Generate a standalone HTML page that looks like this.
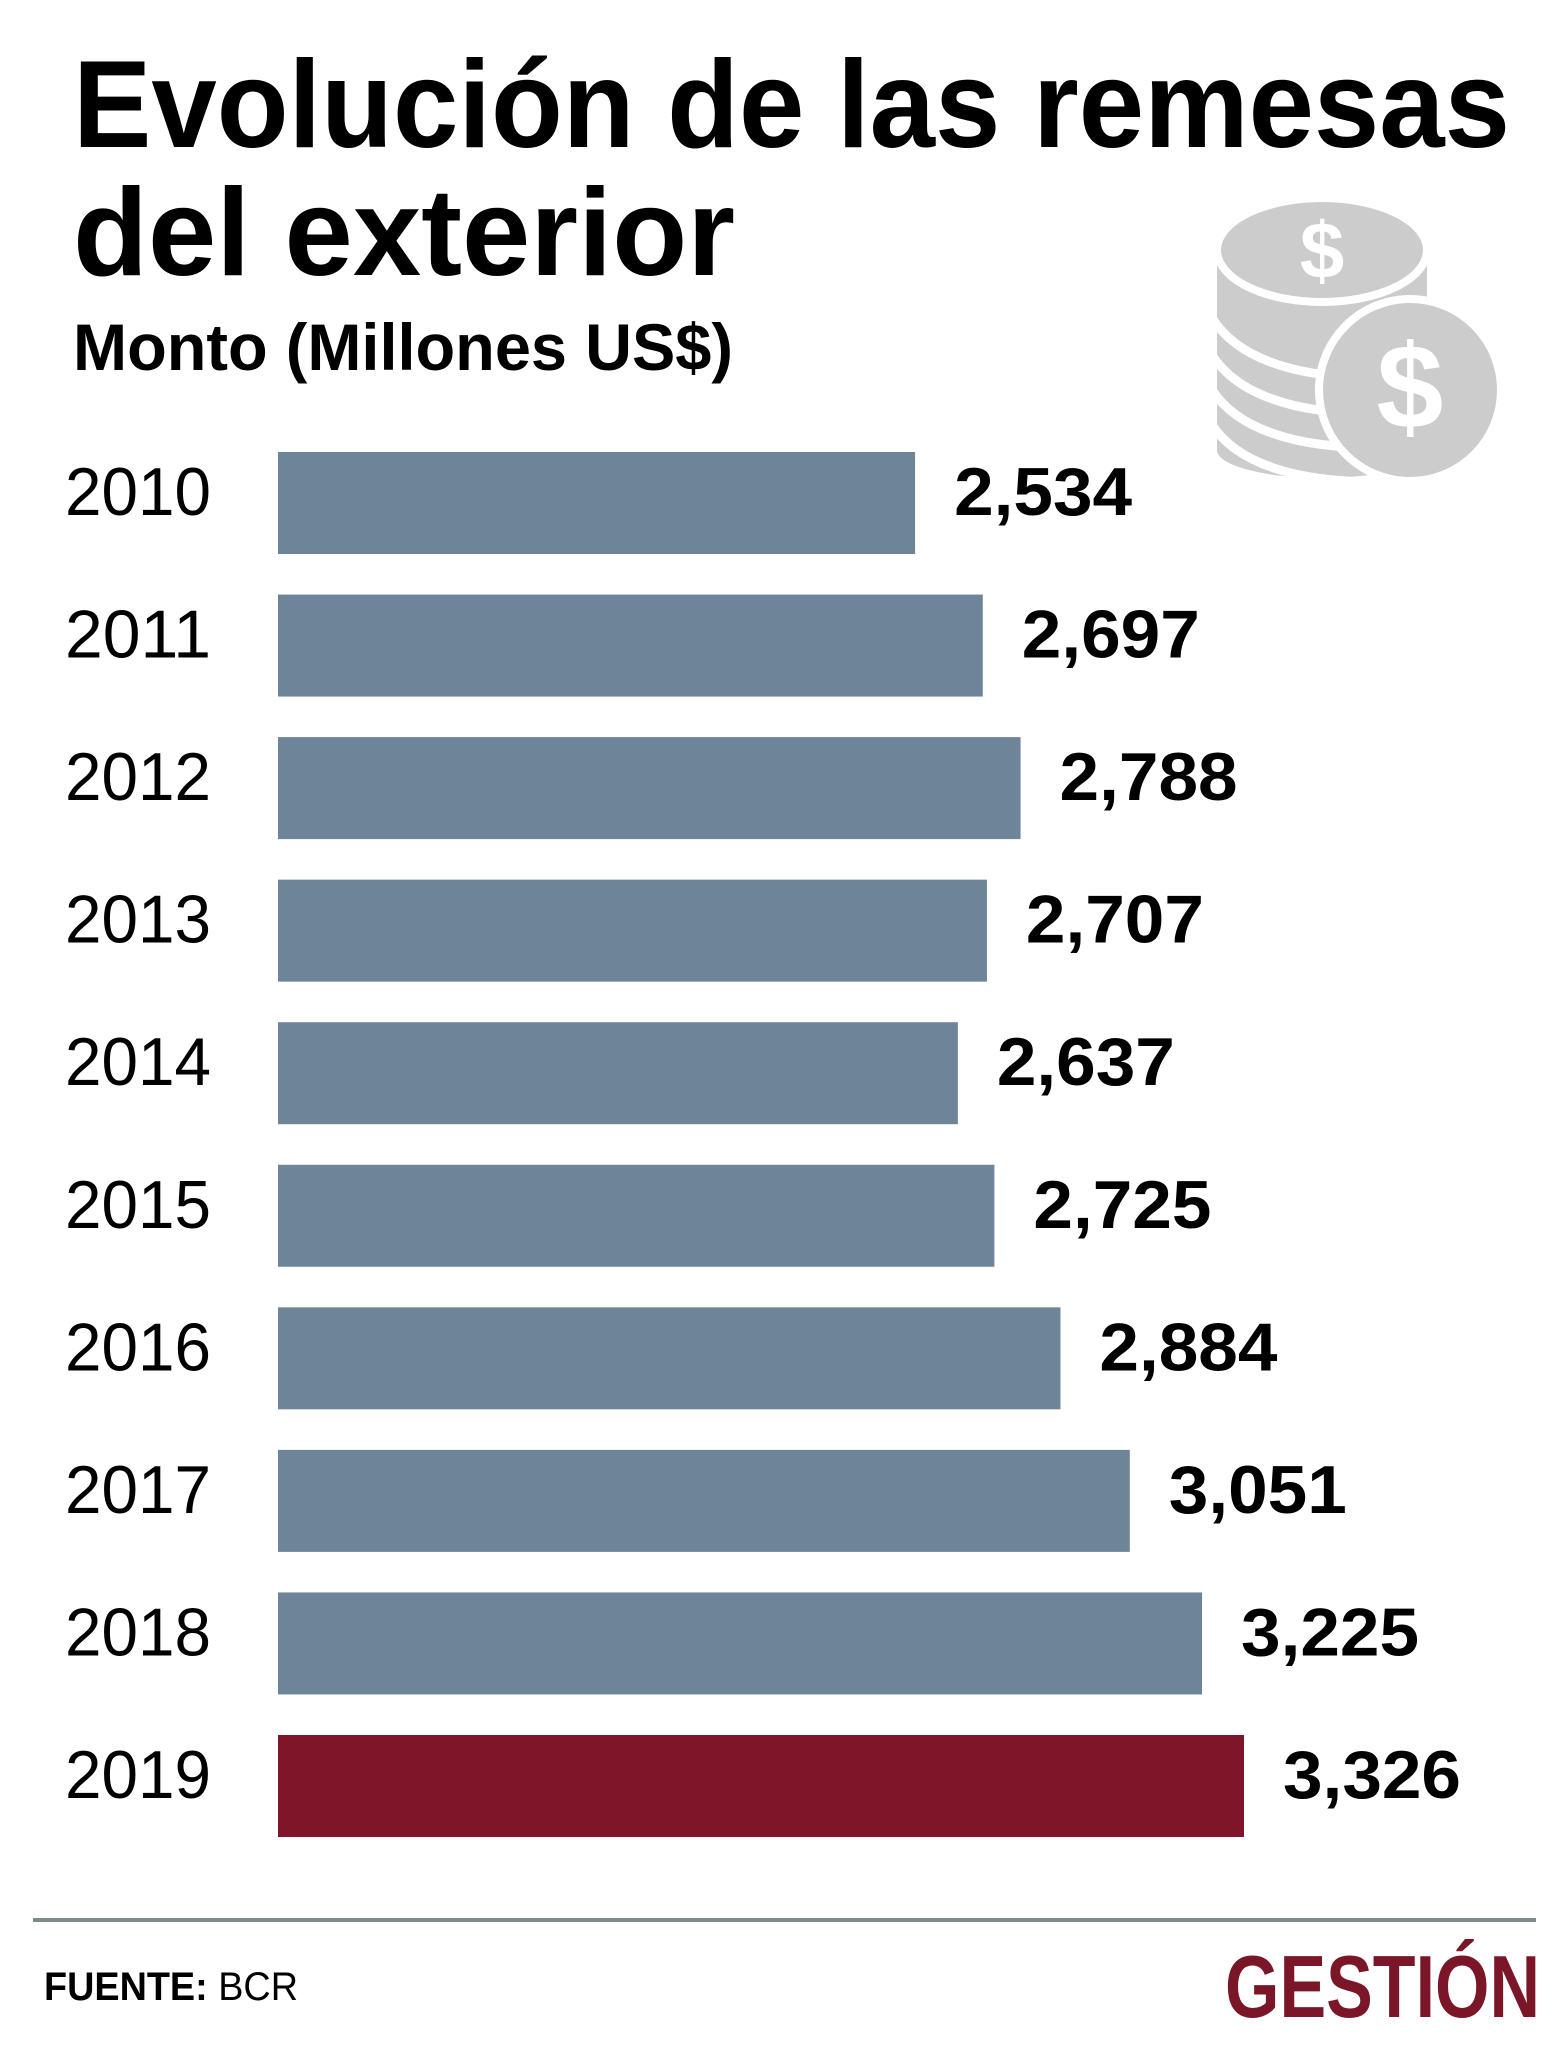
<!DOCTYPE html>
<html><head><meta charset="utf-8">
<style>
html,body{margin:0;padding:0;background:#fff;}
svg{display:block;}
text{font-family:"Liberation Sans",sans-serif;}
</style></head>
<body>
<svg id="chart" width="1564" height="2063" viewBox="0 0 1564 2063" xmlns="http://www.w3.org/2000/svg">
  <rect width="1564" height="2063" fill="#fff"/>
  <text x="73" y="147" font-size="124" font-weight="bold" fill="#000" textLength="1437" lengthAdjust="spacingAndGlyphs">Evolución de las remesas</text>
  <text x="73" y="275" font-size="124" font-weight="bold" fill="#000" textLength="662" lengthAdjust="spacingAndGlyphs">del exterior</text>
  <text x="73" y="370" font-size="66" font-weight="bold" fill="#000" textLength="660" lengthAdjust="spacingAndGlyphs">Monto (Millones US$)</text>

  <g fill="#cccccc">
    <rect x="1217" y="250" width="210" height="200"/>
    <ellipse cx="1322" cy="450" rx="105" ry="28"/>
    <g fill="none" stroke="#fff" stroke-width="9">
      <path d="M1212,318 Q1250,378 1380,378"/>
      <path d="M1212,355 Q1250,414 1380,414"/>
      <path d="M1212,390 Q1250,448 1380,448"/>
      <path d="M1212,425 Q1250,482 1380,482"/>
    </g>
    <ellipse cx="1322" cy="250" rx="105" ry="52" stroke="#fff" stroke-width="8"/>
    <circle cx="1410" cy="390" r="95" fill="#fff"/>
    <circle cx="1410" cy="390" r="87"/>
    <rect x="1150" y="478" width="400" height="40" fill="#fff"/>
    <text x="1322" y="278" font-size="80" font-weight="bold" fill="#fff" text-anchor="middle">$</text>
    <text x="1410" y="428" font-size="120" font-weight="bold" fill="#fff" text-anchor="middle">$</text>
  </g>

  <g id="bars"></g>

  <rect x="33" y="1918" width="1503" height="4" fill="#7f8a8a"/>
  <text x="44" y="2000" font-size="40" fill="#000" textLength="254" lengthAdjust="spacingAndGlyphs"><tspan font-weight="bold">FUENTE:</tspan> BCR</text>
  <text x="1225" y="2017" font-family="Liberation Serif,serif" font-size="88" font-weight="bold" fill="#7b1628" textLength="315" lengthAdjust="spacingAndGlyphs">GESTIÓN</text>
</svg>
<script>
const categories = ["2010","2011","2012","2013","2014","2015","2016","2017","2018","2019"];
const values = [2534,2697,2788,2707,2637,2725,2884,3051,3225,3326];
const valueLabels = ["2,534","2,697","2,788","2,707","2,637","2,725","2,884","3,051","3,225","3,326"];
const highlightCategory = "2019";

const NS = "http://www.w3.org/2000/svg";
const x0 = 278, domainMin = 1000, pxPerUnit = 966 / (3326 - 1000);
function xScale(v){ return x0 + (v - domainMin) * pxPerUnit; }
const top0 = 452, step = (1735 - 452) / 9, barH = 102;
function yScale(i){ return top0 + i * step; }

const g = document.getElementById("bars");
categories.forEach((c, i) => {
  const y = yScale(i);
  const xe = xScale(values[i]);
  const lab = document.createElementNS(NS, "text");
  
  
  lab.setAttribute("x", 211); lab.setAttribute("y", y + 63);
  lab.setAttribute("font-size", "68"); lab.setAttribute("text-anchor", "end");
  lab.setAttribute("textLength", "146"); lab.setAttribute("lengthAdjust", "spacingAndGlyphs");
  lab.textContent = c;
  g.appendChild(lab);

  const r = document.createElementNS(NS, "rect");
  
  
  r.setAttribute("x", x0); r.setAttribute("y", y);
  r.setAttribute("width", xe - x0); r.setAttribute("height", barH);
  r.setAttribute("fill", c === highlightCategory ? "#7e1528" : "#6e8499");
  g.appendChild(r);

  const v = document.createElementNS(NS, "text");
  
  
  v.setAttribute("x", xe + 39); v.setAttribute("y", y + 63);
  v.setAttribute("font-size", "68"); v.setAttribute("font-weight", "bold");
  v.setAttribute("textLength", "178"); v.setAttribute("lengthAdjust", "spacingAndGlyphs");
  v.textContent = valueLabels[i];
  g.appendChild(v);
});
</script>
</body></html>
